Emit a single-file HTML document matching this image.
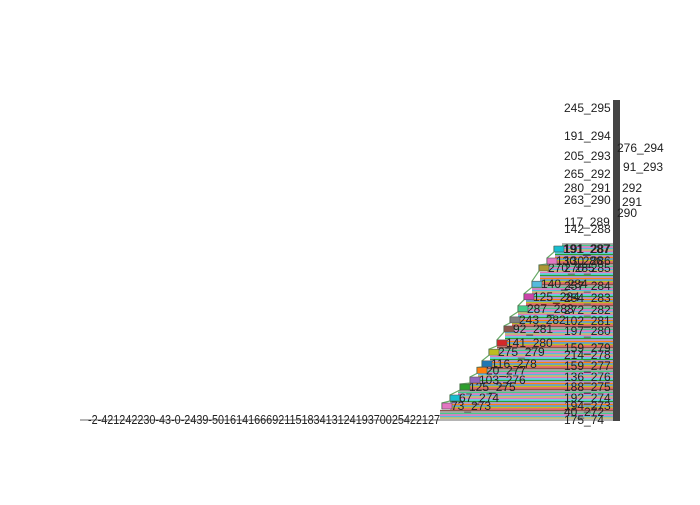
<!DOCTYPE html>
<html><head><meta charset="utf-8"><style>
body{margin:0;background:#fff;font-family:"Liberation Sans",sans-serif}
svg text{font-family:"Liberation Sans",sans-serif;font-size:12px;fill:#222}
</style></head><body>
<svg id="chart" width="700" height="500" viewBox="0 0 700 500">
<line x1="80" x2="614" y1="420" y2="420" stroke="#888" stroke-width="1.2"/>
<g id="fill"></g>
<g id="steps"></g>
<rect x="613" y="100" width="7" height="321" fill="#444"/>
<text x="88" y="424" textLength="352" lengthAdjust="spacingAndGlyphs" style="font-size:13px">-2-421242230-43-0-2439-50161416669211518341312419370025422127</text>
<g id="rlabels"></g>
</svg>
<script>
const stepLabels=["73_273","67_274","125_275","103_276","20_277","116_278","275_279","141_280","92_281","243_282","287_283","125_284","140_284","270_285","130_286","191_287"];
const stepLevels=[273,274,275,275.7,276.6,277.2,278.4,279.3,280.2,281.1,282.1,283.1,284.1,285,286,287];
const stepStart=[450,458,468,478,485,490,497,505,512,518,526,532,540,547,555,562];
const rightLabels=["245_295","191_294","205_293","265_292","280_291","263_290","117_289","142_288","191_287","130_286","270_285","257_284","254_283","272_282","102_281","197_280","159_279","214_278","159_277","136_276","188_275","192_274","194_273","40_272","175_74"];
const rightLevels=[295,294,293,292,291,290,289,288,287,286,285,284,283,282,281,280,279,278,277,276,275,274,273,272,271.9];
const sideLabels=["276_294","91_293","292","291","290"];
const sideLevels=[293.4,292.4,291,289.9,289.4];
const sideX=[617,623,622,622,617];
const colors=["#e377c2","#17becf","#2ca02c","#9467bd","#ff7f0e","#1f77b4","#bcbd22","#d62728","#8c564b","#7f7f7f","#44cc88","#cc44aa","#55bbdd","#aa9933"];
const axLv=[271.9,272,273,274,275,276,277,278,279,280,281,282,283,284,285,286,287,288,289,290,291,292,293,294,295];
const axPx=[420,412,406,398,387,377,366,355,348,331,321,310,298,286,268,261,249,229,222,200,188,174,156,136,108];
function y(v){
  if(v<=axLv[0])return axPx[0];
  for(let i=1;i<axLv.length;i++){if(v<=axLv[i]){const t=(v-axLv[i-1])/(axLv[i]-axLv[i-1]);return axPx[i-1]+t*(axPx[i]-axPx[i-1]);}}
  return axPx[axPx.length-1];
}
const NS="http://www.w3.org/2000/svg";
function mk(t,a,p){const e=document.createElementNS(NS,t);for(const k in a)e.setAttribute(k,a[k]);p.appendChild(e);return e;}
const fill=document.getElementById('fill');
for(let yy=418;yy>=244;yy-=1.5){
  let xs=440;
  for(let i=0;i<stepLevels.length;i++){if(yy<=y(stepLevels[i])+3)xs=stepStart[i];}
  const l=mk('line',{x1:xs,x2:614,y1:yy,y2:yy,stroke:colors[Math.round(yy*2/3)%colors.length],'stroke-width':1.2},fill);
  
  
}
const steps=document.getElementById('steps');
let pts=[];
stepLabels.forEach((s,i)=>{pts.push((stepStart[i]-8)+','+(y(stepLevels[i])+3));pts.push((stepStart[i]-8)+','+(y(stepLevels[i])-3));});
const pl=mk('polyline',{points:pts.join(' '),fill:'none',stroke:'#6a6','stroke-width':1.2},steps);


stepLabels.forEach((s,i)=>{
  const yy=y(stepLevels[i]);
  const r=mk('rect',{x:stepStart[i]-8,y:yy-3,width:10,height:6,fill:colors[i%colors.length],stroke:'#555','stroke-width':0.6},steps);
  
  
  const t=mk('text',{x:stepStart[i]+1,y:yy+4},steps);t.textContent=s;
  
  
});
const rl=document.getElementById('rlabels');
rightLabels.forEach((s,i)=>{
  const t=mk('text',{x:564,y:y(rightLevels[i])+4},rl);t.textContent=s;
  
  
});
sideLabels.forEach((s,i)=>{
  const t=mk('text',{x:sideX[i],y:y(sideLevels[i])+4},rl);t.textContent=s;
  
  
});
</script>
</body></html>
